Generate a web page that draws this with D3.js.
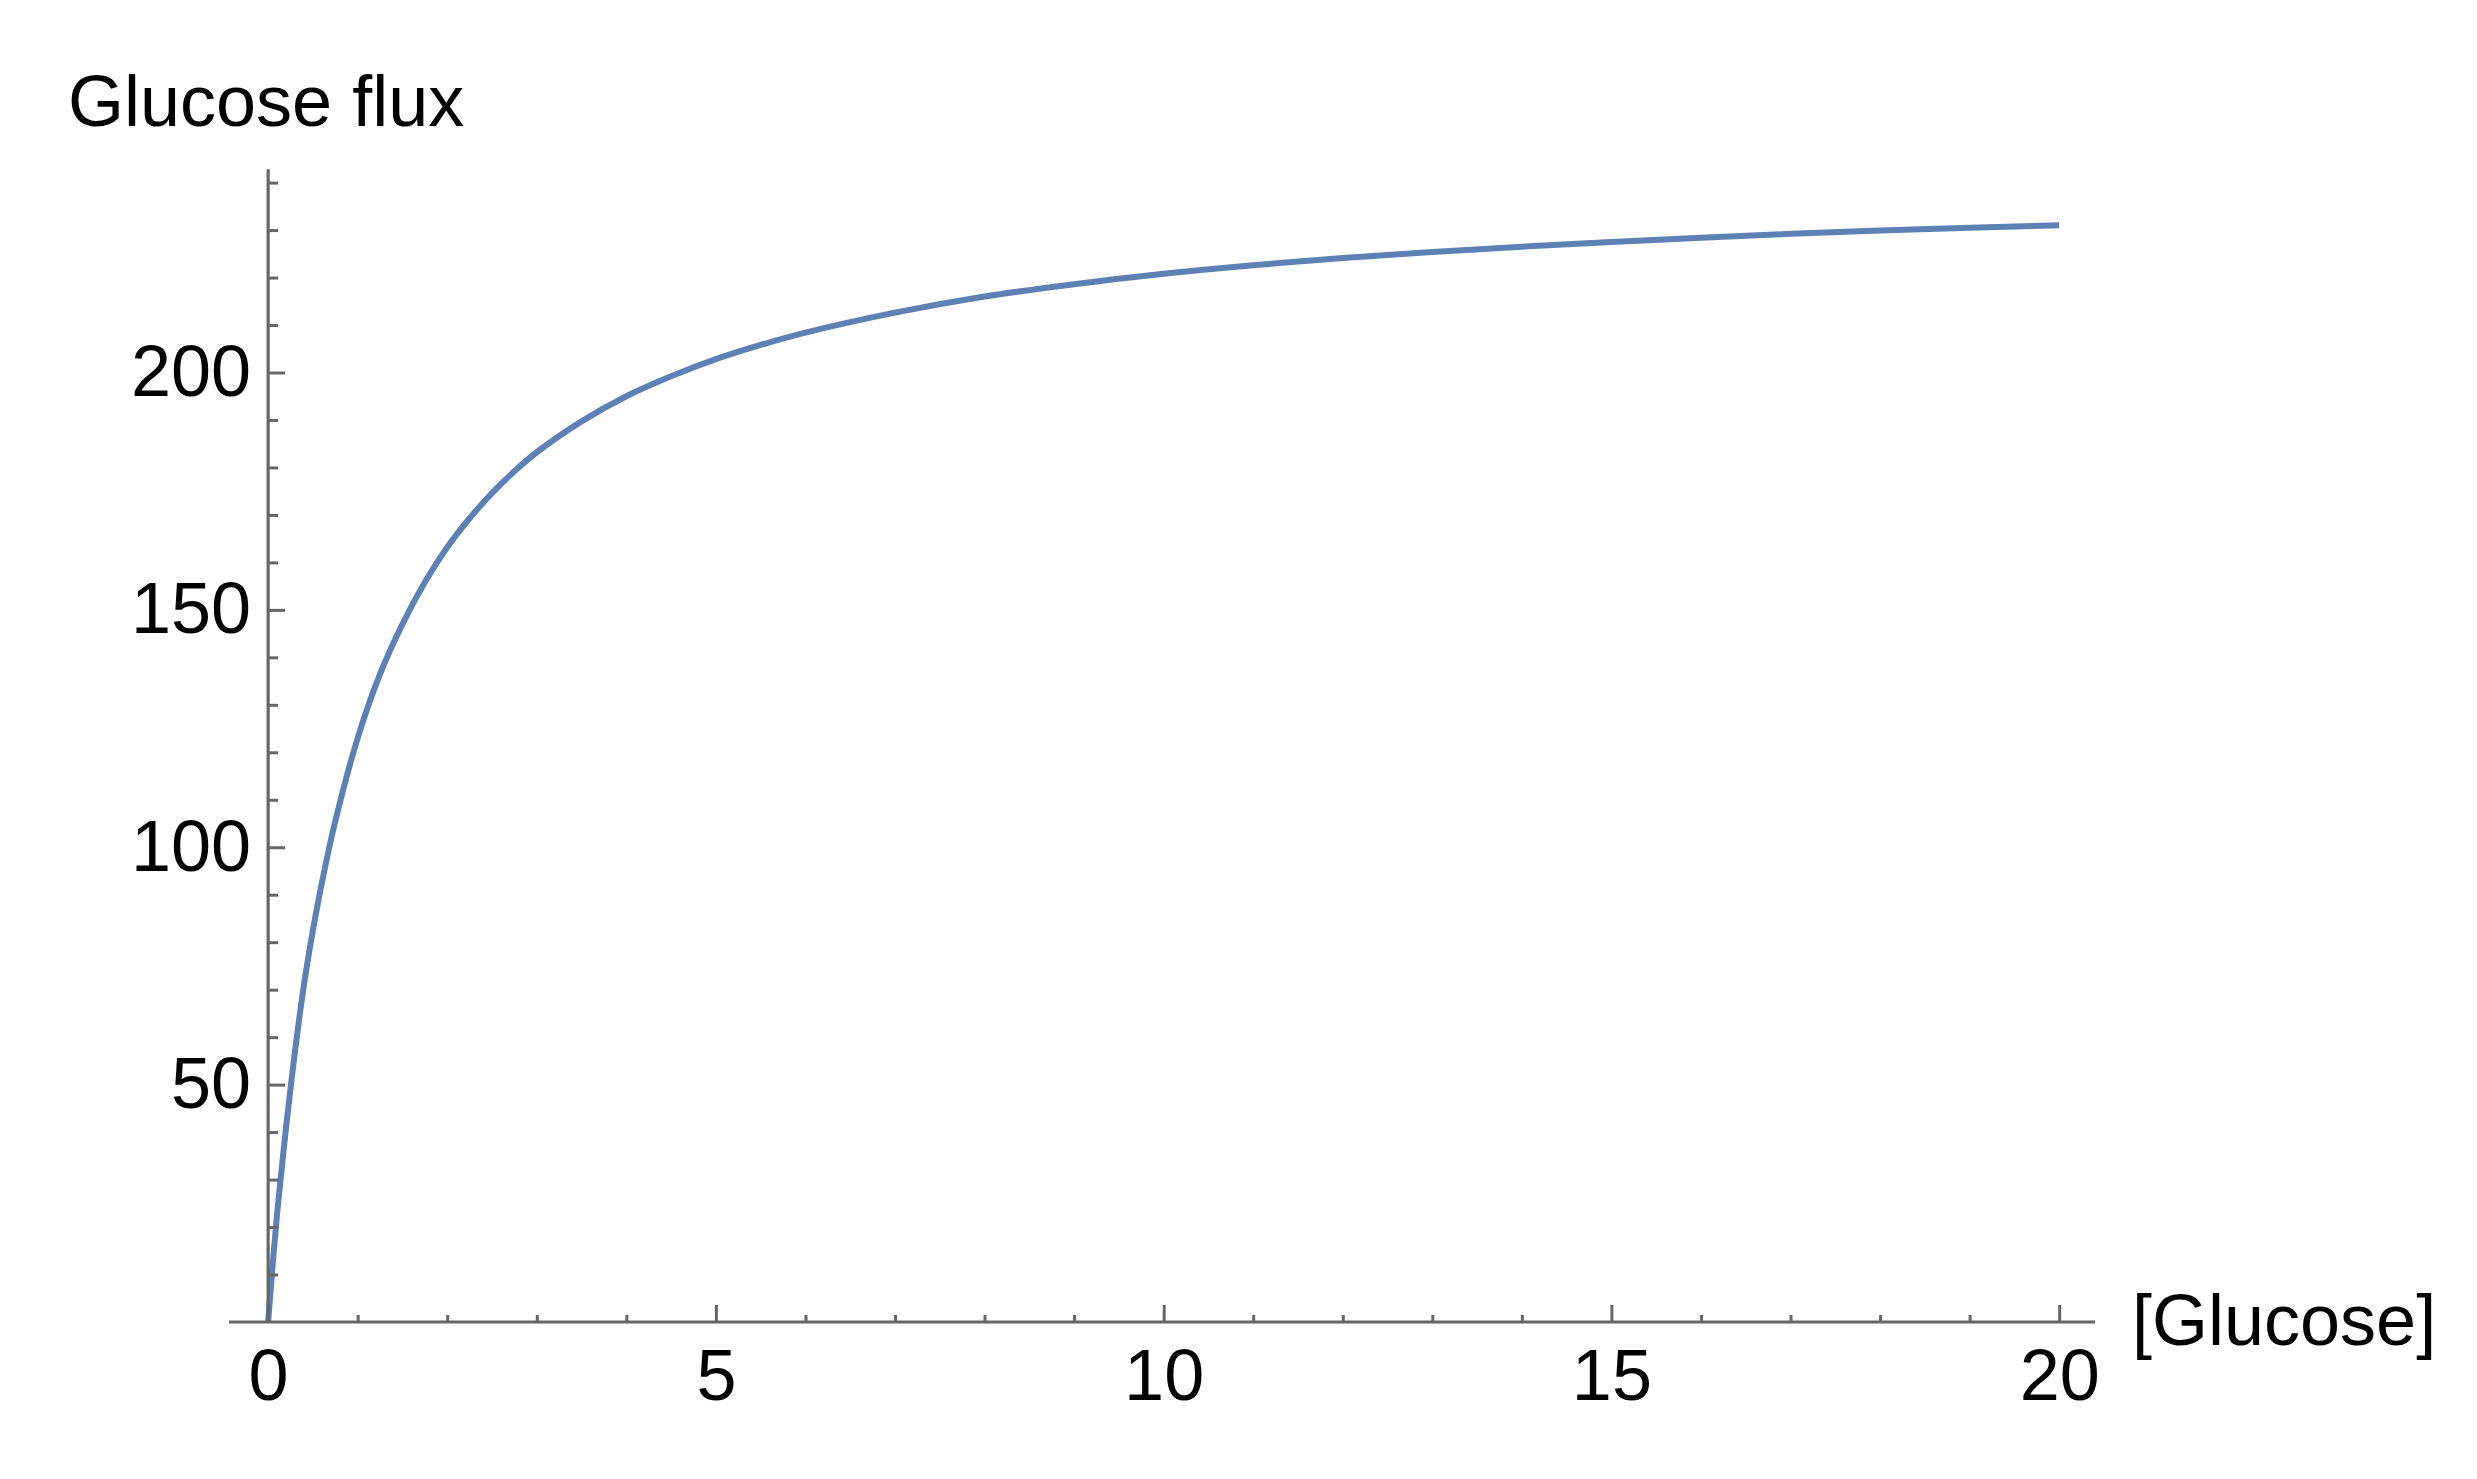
<!DOCTYPE html>
<html>
<head>
<meta charset="utf-8">
<script src="https://cdn.jsdelivr.net/npm/d3@7"></script>
<style>
    body { margin: 0; background: #ffffff; }
    svg { display: block; }
</style>
</head>
<body>
<svg width="2477" height="1479"></svg>
<script>
// values
var glucose = [0, 0.05, 0.1, 0.15, 0.2, 0.3, 0.4, 0.5, 0.6, 0.75, 1, 1.25, 1.5, 1.75, 2, 2.25, 2.5, 2.75, 3,
    3.5, 4, 4.5, 5, 5.5, 6, 7, 8, 9, 10, 11, 12, 13, 14, 15, 16, 17, 18, 19, 20];
var flux = [0, 12, 22.8, 32, 41, 57, 71, 82.5, 92.5, 105.5, 123, 136.5, 147, 155.8, 163.2, 169.3, 174.6, 179.2, 183.2,
    189.7, 195, 199.2, 202.8, 205.8, 208.4, 212.6, 216, 218.6, 220.8, 222.6, 224.1, 225.4, 226.5, 227.5, 228.4, 229.2, 229.9, 230.5, 231];

var xMajorTicks = [0, 5, 10, 15, 20];
var xMinorTicks = [1, 2, 3, 4, 6, 7, 8, 9, 11, 12, 13, 14, 16, 17, 18, 19];
var yMajorTicks = [50, 100, 150, 200];
var yMinorTicks = [10, 20, 30, 40, 60, 70, 80, 90, 110, 120, 130, 140, 160, 170, 180, 190, 210, 220, 230, 240];

var xLabel = "[Glucose]";
var yLabel = "Glucose flux";

function drawChart() {
    let axisColor = "#666666";
    let fontFamily = "'Liberation Sans', Arial, sans-serif";
    let fontSize = 72;

    var xScale = d3.scaleLinear([-0.437, 20.4], [229, 2095]);
    var yScale = d3.scaleLinear([0, 242.8], [1322, 169.3]);

    var svg = d3.select("svg");

    svg.append("rect")
        .attr("width", 2477)
        .attr("height", 1479)
        .attr("fill", "#ffffff");

    // Curve
    var points = glucose.map(function(g, i) {
        return [g, flux[i]];
    });

    var line = d3.line()
        .x(function(d) { return xScale(d[0]); })
        .y(function(d) { return yScale(d[1]); })
        .curve(d3.curveCatmullRom.alpha(0.5));

    svg.append("path")
        .datum(points)
        .attr("d", line)
        .attr("fill", "none")
        .attr("stroke", "#5E81B5")
        .attr("stroke-width", 6);

    // X Axis
    var xMinorAxis = d3.axisBottom(xScale).tickValues(xMinorTicks).tickSize(-7).tickFormat("");
    var xMajorAxis = d3.axisBottom(xScale).tickValues(xMajorTicks).tickSize(-17).tickPadding(27).tickFormat(d3.format("d"));

    svg.append("g")
        .attr("transform", "translate(0, " + yScale(0) + ")")
        .call(xMinorAxis);

    svg.append("g")
        .attr("id", "xAxis")
        .attr("transform", "translate(0, " + yScale(0) + ")")
        .call(xMajorAxis);

    // Y Axis
    var yMinorAxis = d3.axisLeft(yScale).tickValues(yMinorTicks).tickSize(-10).tickFormat("");
    var yMajorAxis = d3.axisLeft(yScale).tickValues(yMajorTicks).tickSize(-17).tickPadding(17).tickFormat(d3.format("d"));

    svg.append("g")
        .attr("transform", "translate(" + xScale(0) + ", 0)")
        .call(yMinorAxis);

    svg.append("g")
        .attr("id", "yAxis")
        .attr("transform", "translate(" + xScale(0) + ", 0)")
        .call(yMajorAxis);

    // own axis lines, so they span the full plot range
    svg.selectAll(".domain").remove();

    svg.append("line")
        .attr("x1", xScale.range()[0])
        .attr("x2", xScale.range()[1])
        .attr("y1", yScale(0))
        .attr("y2", yScale(0))
        .attr("stroke", axisColor)
        .attr("stroke-width", 3.2);

    svg.append("line")
        .attr("x1", xScale(0))
        .attr("x2", xScale(0))
        .attr("y1", yScale.range()[0])
        .attr("y2", yScale.range()[1])
        .attr("stroke", axisColor)
        .attr("stroke-width", 3.2);

    svg.selectAll(".tick line")
        .attr("stroke", axisColor)
        .attr("stroke-width", 3);

    svg.selectAll(".tick text")
        .attr("fill", "#000000")
        .attr("font-family", fontFamily)
        .attr("font-size", fontSize);

    // Labels
    svg.append("text")
        .attr("x", 68)
        .attr("y", 126)
        .attr("font-family", fontFamily)
        .attr("font-size", fontSize)
        .attr("fill", "#000000")
        .text(yLabel);

    svg.append("text")
        .attr("x", 2132)
        .attr("y", 1345)
        .attr("font-family", fontFamily)
        .attr("font-size", fontSize)
        .attr("fill", "#000000")
        .text(xLabel);
}

drawChart();
</script>
</body>
</html>
